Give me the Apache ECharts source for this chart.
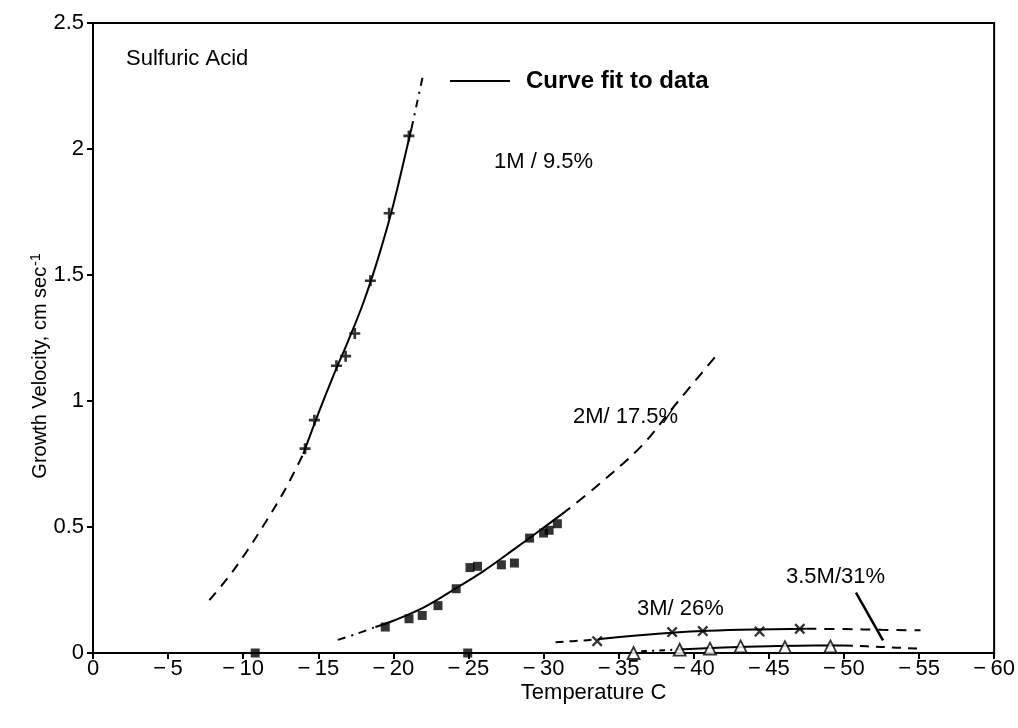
<!DOCTYPE html>
<html><head><meta charset="utf-8">
<script src="https://cdn.jsdelivr.net/npm/echarts@6/dist/echarts.min.js"></script>
<style>html,body{margin:0;padding:0;background:#fff}#c{width:1018px;height:728px}</style>
</head><body><div id="c"></div>
<script>
// ---- data (temperature C, growth velocity cm/s) ----
const xTickValues = [0,-5,-10,-15,-20,-25,-30,-35,-40,-45,-50,-55,-60];
const yTickValues = [0,0.5,1,1.5,2,2.5];

const data1M = [[-14.12,0.811],[-14.74,0.924],[-16.21,1.14],[-16.82,1.178],[-17.43,1.268],[-18.47,1.477],[-19.72,1.745],[-21.03,2.052]];
const fit1M_low = [[-7.75,0.21],[-9,0.30],[-10.2,0.40],[-11.5,0.52],[-12.8,0.65],[-14,0.79]];
const fit1M_mid = [[-14,0.79],[-15,0.95],[-16,1.10],[-17,1.24],[-18,1.39],[-19,1.57],[-20,1.78],[-21,2.03],[-21.2,2.08]];
const fit1M_high = [[-21.2,2.08],[-21.6,2.19],[-22,2.30]];

const data2M = [[-10.8,0],[-19.46,0.103],[-21.04,0.136],[-21.92,0.149],[-22.97,0.188],[-24.18,0.255],[-24.95,0],[-25.1,0.339],[-25.6,0.344],[-27.19,0.35],[-28.06,0.357],[-29.07,0.456],[-30.0,0.476],[-30.37,0.487],[-30.92,0.513]];
const fit2M_low = [[-16.3,0.052],[-17.5,0.075],[-18.8,0.103]];
const fit2M_mid = [[-18.8,0.103],[-20,0.128],[-22,0.18],[-24.2,0.258],[-26,0.325],[-28,0.41],[-29.5,0.475],[-31.2,0.55]];
const fit2M_high = [[-31.2,0.55],[-33.4,0.655],[-36.5,0.82],[-38.7,0.98],[-41.5,1.18]];

const data3M = [[-33.57,0.047],[-38.56,0.083],[-40.6,0.087],[-44.38,0.085],[-47.06,0.096]];
const fit3M_low = [[-30.8,0.043],[-32.7,0.05],[-33.6,0.055]];
const fit3M_mid = [[-33.6,0.055],[-36,0.068],[-38.5,0.08],[-41,0.088],[-44,0.093],[-47.5,0.096]];
const fit3M_high = [[-47.5,0.096],[-50,0.095],[-52.5,0.092],[-55.1,0.09]];

const data35M = [[-35.99,0.0],[-39.06,0.013],[-41.08,0.017],[-43.12,0.026],[-46.07,0.023],[-49.1,0.026]];
const fit35M_low = [[-36.5,0.007],[-38,0.011],[-39,0.014]];
const fit35M_mid = [[-39,0.014],[-42,0.022],[-45,0.027],[-48,0.03],[-50,0.03]];
const fit35M_high = [[-50,0.03],[-52.5,0.024],[-55.1,0.017]];

const leader35M = [[-50.8,0.24],[-52.6,0.05]];

// ---- styling ----
const FONT = '"Liberation Sans", Arial, Helvetica, sans-serif';
const BLACK = '#000';
const FIT_NAME = 'Curve fit to data';

function fitLine(name, data, type, width) {
  return {
    name: name, type: 'line', data: data, smooth: 0.35, showSymbol: false, symbol: 'none',
    silent: true, z: 3,
    lineStyle: { color: BLACK, width: width || 2, type: type },
    itemStyle: { color: BLACK }
  };
}
function pts(name, data, symbol, size, filled) {
  return {
    name: name, type: 'scatter', data: data, symbol: symbol, symbolSize: size, z: 5,
    itemStyle: filled ? { color: BLACK } : { color: '#fff', borderColor: BLACK, borderWidth: 1.8 }
  };
}

const plusSym = 'path://M3.8,0H6.2V3.8H10V6.2H6.2V10H3.8V6.2H0V3.8H3.8Z';
const crossSym = 'path://M1.5,0L5,3.5L8.5,0L10,1.5L6.5,5L10,8.5L8.5,10L5,6.5L1.5,10L0,8.5L3.5,5L0,1.5Z';

const chart = echarts.init(document.getElementById('c'), null, { renderer: 'canvas' });
chart.setOption({
  backgroundColor: '#fff',
  animation: false,
  textStyle: { fontFamily: FONT, color: BLACK },
  grid: { left: 93, right: 14, top: 23, bottom: 75, show: true, borderColor: BLACK, borderWidth: 2, containLabel: false },
  legend: {
    data: [FIT_NAME], selectedMode: false, left: 450, top: 69, padding: 0,
    icon: 'rect', itemWidth: 60, itemHeight: 2,
    textStyle: { fontFamily: FONT, fontSize: 24, fontWeight: 'bold', color: BLACK, padding: [0, 0, 0, 11] }
  },
  xAxis: {
    type: 'value', min: -60, max: 0, interval: 5, inverse: true,
    name: 'Temperature C', nameLocation: 'middle', nameGap: 29, nameMoveOverlap: false,
    nameTextStyle: { fontFamily: FONT, fontSize: 22, color: BLACK, padding: [0, 0, 0, 100] },
    axisLine: { show: true, onZero: false, lineStyle: { color: BLACK, width: 2 } },
    axisTick: { show: true, inside: false, length: 6, lineStyle: { color: BLACK, width: 2 } },
    axisLabel: { fontFamily: FONT, fontSize: 22, color: BLACK, margin: 5,
      formatter: function (v) { return v === 0 ? '0' : '\u2212' + '\u2009' + Math.abs(v); } },
    splitLine: { show: false }
  },
  yAxis: {
    type: 'value', min: 0, max: 2.5, interval: 0.5,
    name: '{a|Growth Velocity, cm sec}{b|-1}', nameLocation: 'middle', nameGap: 42, nameMoveOverlap: false,
    nameTextStyle: { fontFamily: FONT, color: BLACK, padding: [0, 56, 0, 0],
      rich: { a: { fontFamily: FONT, fontSize: 20, color: BLACK }, b: { fontFamily: FONT, fontSize: 14, color: BLACK, verticalAlign: 'top', padding: [0, 0, 8, 1] } } },
    axisLine: { show: true, onZero: false, lineStyle: { color: BLACK, width: 2 } },
    axisTick: { show: true, inside: false, length: 6, lineStyle: { color: BLACK, width: 2 } },
    axisLabel: { fontFamily: FONT, fontSize: 22, color: BLACK, margin: 9,
      formatter: function (v) { return String(v); } },
    splitLine: { show: false }
  },
  series: [
    fitLine('1M low', fit1M_low, [10, 8]),
    fitLine(FIT_NAME, fit1M_mid, 'solid'),
    fitLine('1M high', fit1M_high, [8, 6, 2, 6]),
    pts('1M / 9.5%', data1M, plusSym, 11, true),

    fitLine('2M low', fit2M_low, [8, 6, 2, 6]),
    fitLine(FIT_NAME, fit2M_mid, 'solid'),
    fitLine('2M high', fit2M_high, [11, 8]),
    pts('2M/ 17.5%', data2M, 'rect', 9, true),

    fitLine('3M low', fit3M_low, [8, 6]),
    fitLine(FIT_NAME, fit3M_mid, 'solid'),
    fitLine('3M high', fit3M_high, [10, 8]),
    pts('3M/ 26%', data3M, crossSym, 11, true),

    fitLine('3.5M low', fit35M_low, [6, 5, 2, 5]),
    fitLine(FIT_NAME, fit35M_mid, 'solid'),
    fitLine('3.5M high', fit35M_high, [9, 7]),
    pts('3.5M/31%', data35M, 'triangle', 12, false),

    { name: '3.5M leader', type: 'line', data: leader35M, showSymbol: false, symbol: 'none', silent: true,
      lineStyle: { color: BLACK, width: 2.5 }, z: 4 }
  ],
  graphic: [
    { type: 'text', x: 126, y: 59, style: { text: 'Sulfuric Acid', font: '22px ' + FONT, fill: BLACK, verticalAlign: 'middle', textVerticalAlign: 'middle' } },
    { type: 'text', x: 494, y: 162, style: { text: '1M / 9.5%', font: '22px ' + FONT, fill: BLACK, verticalAlign: 'middle', textVerticalAlign: 'middle' } },
    { type: 'text', x: 573, y: 417, style: { text: '2M/ 17.5%', font: '22px ' + FONT, fill: BLACK, verticalAlign: 'middle', textVerticalAlign: 'middle' } },
    { type: 'text', x: 637, y: 609, style: { text: '3M/ 26%', font: '22px ' + FONT, fill: BLACK, verticalAlign: 'middle', textVerticalAlign: 'middle' } },
    { type: 'text', x: 786, y: 577, style: { text: '3.5M/31%', font: '22px ' + FONT, fill: BLACK, verticalAlign: 'middle', textVerticalAlign: 'middle' } }
  ]
});
</script>
</body></html>
